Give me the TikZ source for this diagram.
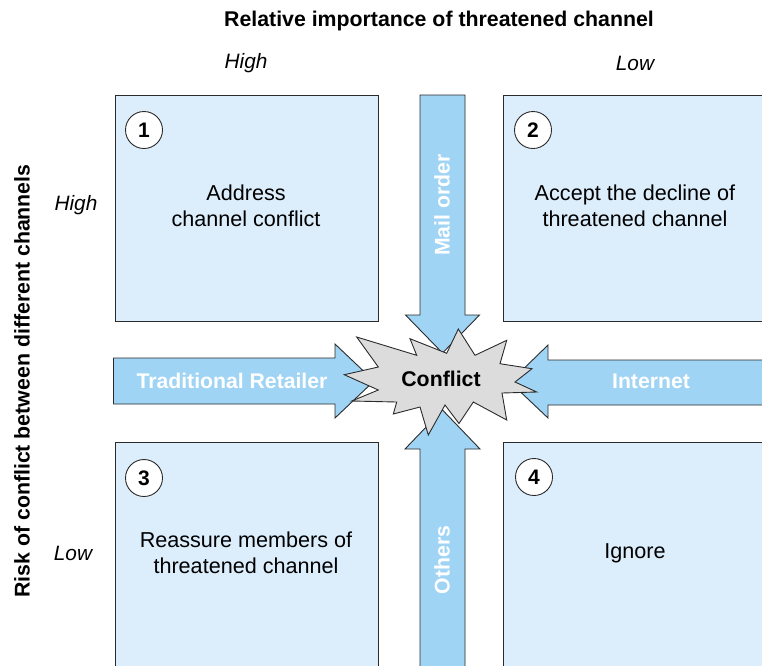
\documentclass[tikz,border=0pt]{standalone}
\usepackage{fontspec}
\setmainfont{Liberation Sans}
\definecolor{quadfill}{HTML}{DCEDFB}
\definecolor{flowfill}{HTML}{A0D4F5}
\definecolor{burstfill}{HTML}{DCDCDC}
\definecolor{edge}{HTML}{2B2B2B}
\begin{document}
\begin{tikzpicture}[x=1pt,y=-1pt,
  quad/.style={draw=edge, line width=0.9pt, fill=quadfill, rectangle, anchor=north west, inner sep=0pt},
  flow/.style={draw=edge, line width=0.9pt, fill=flowfill, line join=miter},
  burst/.style={draw=edge, line width=0.9pt, fill=burstfill, line join=miter},
  numc/.style={draw=edge, line width=0.9pt, fill=white, circle, minimum size=37pt, inner sep=0pt,
    font=\fontsize{21}{24}\selectfont\bfseries},
  body/.style={font=\fontsize{21.6}{26}\selectfont, align=center, inner sep=0pt, text=black},
  axis/.style={font=\fontsize{21.3}{26}\selectfont\bfseries, inner sep=0pt, text=black},
  level/.style={font=\fontsize{20.8}{26}\selectfont\itshape, inner sep=0pt, text=black},
  flowlabel/.style={font=\fontsize{21.2}{26}\selectfont\bfseries, inner sep=0pt, text=white}]
\useasboundingbox (0,0) rectangle (762,665);
\clip (0,0) rectangle (762,665);

% four quadrants (right and bottom ones run past the page edge)
\node[quad, minimum width=263pt, minimum height=226pt] (q1) at (115,95) {};
\node[quad, minimum width=280pt, minimum height=226pt] (q2) at (503,95) {};
\node[quad, minimum width=263pt, minimum height=240pt] (q3) at (115,442) {};
\node[quad, minimum width=280pt, minimum height=240pt] (q4) at (503,442) {};

% channel arrows pointing to the centre
\draw[flow] (420,95) -- (465,95) -- (465,315) -- (479.5,315) -- (442.5,353)
  -- (405.5,315) -- (420,315) -- cycle;
\draw[flow] (420,680) -- (465,680) -- (465,449) -- (480,449) -- (442.5,410)
  -- (405,449) -- (420,449) -- cycle;
\draw[flow] (113.5,358) -- (335,358) -- (335,344) -- (374,381) -- (335,418)
  -- (335,404) -- (113.5,404) -- cycle;
\draw[flow] (780,360) -- (548,360) -- (548,345) -- (510,382) -- (548,418)
  -- (548,405) -- (780,405) -- cycle;

% conflict burst
\draw[burst] (356.7,337) -- (416.7,355.3) -- (410,338.7) -- (446.7,353.3)
  -- (458.3,329) -- (475,355.3) -- (506.7,340.3) -- (500,363.7) -- (532,368.7)
  -- (515,382) -- (536.7,392) -- (502,393) -- (506.7,420) -- (473.3,402)
  -- (459,423.5) -- (445,405) -- (428.3,435) -- (420,407) -- (393.3,414)
  -- (396.7,402) -- (351.7,401) -- (378.3,390) -- (344.3,374.7) -- (378.3,367) -- cycle;
\node[axis] (conflict) at (441,379) {Conflict};

% channel labels
\node[flowlabel, rotate=90] (mail) at (442,205) {Mail order};
\node[flowlabel, rotate=90] (others) at (442,560) {Others};
\node[flowlabel] (retail) at (232,381) {Traditional Retailer};
\node[flowlabel] (internet) at (651,381) {Internet};

% quadrant numbers
\node[numc] (n1) at (144,130) {1};
\node[numc] (n2) at (533,130) {2};
\node[numc] (n3) at (144,478) {3};
\node[numc] (n4) at (534,477) {4};

% quadrant texts
\node[body] (t1) at (246,206) {Address\\channel conflict};
\node[body] (t2) at (635,206) {Accept the decline of\\threatened channel};
\node[body] (t3) at (246,553) {Reassure members of\\threatened channel};
\node[body] (t4) at (635,553) {Ignore};

% axes
\node[axis] (xaxis) at (439,21) {Relative importance of threatened channel};
\node[level] (xhigh) at (246,63) {High};
\node[level] (xlow) at (635,63) {Low};
\node[axis, rotate=90] (yaxis) at (22,381) {Risk of conflict between different channels};
\node[level] (yhigh) at (76,205) {High};
\node[level] (ylow) at (73,553) {Low};
\end{tikzpicture}
\end{document}
